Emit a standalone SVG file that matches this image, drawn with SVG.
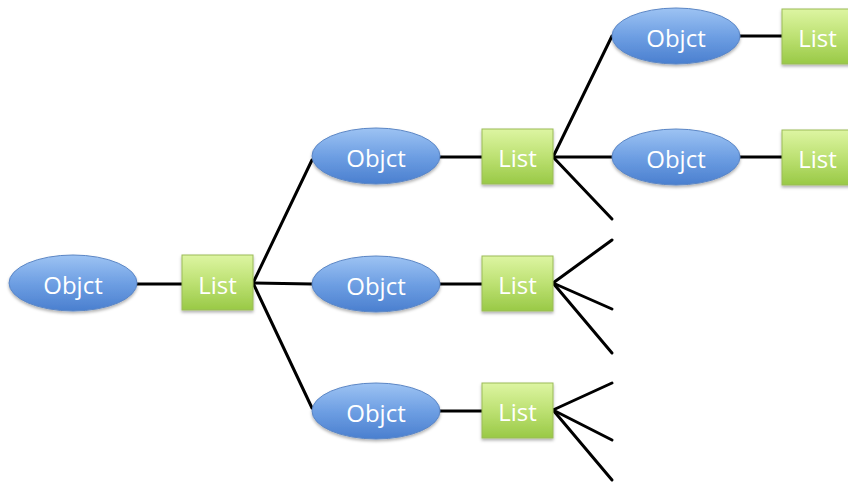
<svg xmlns="http://www.w3.org/2000/svg" width="848" height="483" viewBox="0 0 848 483">
<defs>
<linearGradient id="gb" x1="0" y1="0" x2="0" y2="1">
<stop offset="0" stop-color="#9DC3F3"/>
<stop offset="0.5" stop-color="#6E9FE3"/>
<stop offset="1" stop-color="#4A7FCF"/>
</linearGradient>
<linearGradient id="gg" x1="0" y1="0" x2="0" y2="1">
<stop offset="0" stop-color="#DDF5A2"/>
<stop offset="0.5" stop-color="#BDE173"/>
<stop offset="1" stop-color="#99C946"/>
</linearGradient>
<filter id="sh" x="-20%" y="-20%" width="140%" height="150%">
<feDropShadow dx="0" dy="2" stdDeviation="1.5" flood-color="#000" flood-opacity="0.3"/>
</filter>
</defs>
<style>
.ob{fill:url(#gb);stroke:#5B86C5;stroke-width:1;filter:url(#sh)}
.ls{fill:url(#gg);stroke:#9BBB59;stroke-width:1;filter:url(#sh)}
.t{font-family:"Open Sans","Liberation Sans",sans-serif;font-size:24px;fill:#fff;text-anchor:middle;dominant-baseline:central}
.c line{stroke:#000;stroke-width:3;stroke-linecap:round}
</style>
<g class="c" id="connectors">
<line x1="137" y1="284" x2="182" y2="284"/>
<line x1="253" y1="283" x2="312" y2="160"/>
<line x1="253" y1="283" x2="312" y2="284"/>
<line x1="253" y1="283" x2="312" y2="408"/>
<line x1="440" y1="157" x2="482" y2="157"/>
<line x1="440" y1="284" x2="482" y2="284"/>
<line x1="440" y1="411" x2="482" y2="411"/>
<line x1="553" y1="157" x2="612" y2="36"/>
<line x1="553" y1="157" x2="612" y2="157"/>
<line x1="553" y1="157" x2="612" y2="219"/>
<line x1="553" y1="283" x2="612" y2="240"/>
<line x1="553" y1="283" x2="612" y2="309"/>
<line x1="553" y1="283" x2="612" y2="353"/>
<line x1="553" y1="410" x2="612" y2="383"/>
<line x1="553" y1="410" x2="612" y2="440"/>
<line x1="553" y1="410" x2="612" y2="480"/>
<line x1="739" y1="36" x2="782" y2="36"/>
<line x1="739" y1="157" x2="782" y2="157"/>
</g>
<g id="obj1"><ellipse class="ob" cx="73" cy="283" rx="64" ry="28"/><text class="t" x="73" y="284">Objct</text></g>
<g id="list1"><rect class="ls" x="182" y="255" width="71" height="55"/><text class="t" x="217.5" y="284">List</text></g>
<g id="obj2"><ellipse class="ob" cx="376" cy="156" rx="64" ry="28"/><text class="t" x="376" y="157">Objct</text></g>
<g id="obj3"><ellipse class="ob" cx="376" cy="284" rx="64" ry="28"/><text class="t" x="376" y="285">Objct</text></g>
<g id="obj4"><ellipse class="ob" cx="376" cy="411" rx="64" ry="28"/><text class="t" x="376" y="412">Objct</text></g>
<g id="list2"><rect class="ls" x="482" y="129" width="71" height="55"/><text class="t" x="517.5" y="157">List</text></g>
<g id="list3"><rect class="ls" x="482" y="256" width="71" height="55"/><text class="t" x="517.5" y="284">List</text></g>
<g id="list4"><rect class="ls" x="482" y="383" width="71" height="55"/><text class="t" x="517.5" y="411">List</text></g>
<g id="obj5"><ellipse class="ob" cx="676" cy="36" rx="64" ry="28"/><text class="t" x="676" y="37">Objct</text></g>
<g id="obj6"><ellipse class="ob" cx="676" cy="157" rx="64" ry="28"/><text class="t" x="676" y="158">Objct</text></g>
<g id="list5"><rect class="ls" x="782" y="9" width="71" height="55"/><text class="t" x="817.5" y="37">List</text></g>
<g id="list6"><rect class="ls" x="782" y="130" width="71" height="55"/><text class="t" x="817.5" y="158">List</text></g>
</svg>
